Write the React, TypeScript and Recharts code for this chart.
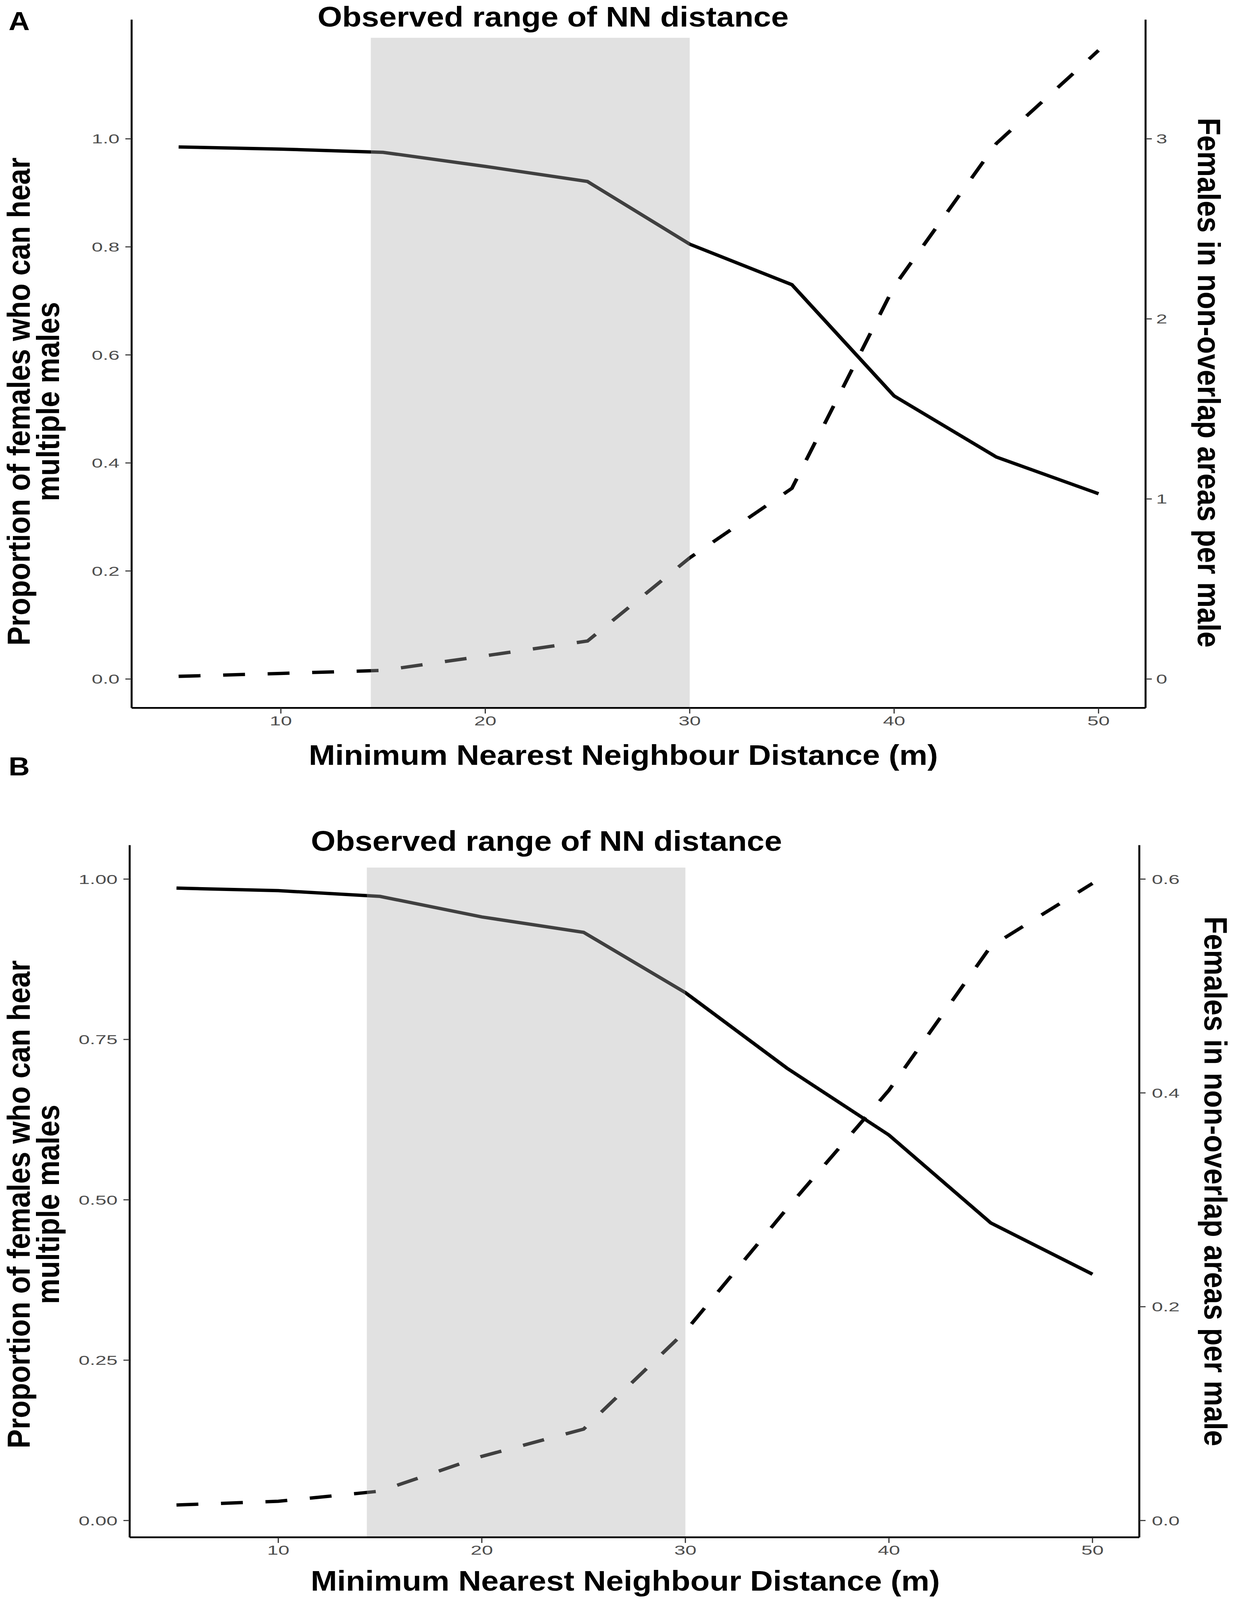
import React from "react";
import { LineChart, Line, XAxis, YAxis, ReferenceArea } from "recharts";

// ---------- data ----------
const distance = [5, 10, 15, 20, 25, 30, 35, 40, 45, 50];

// Panel A
const propHearA = [0.985, 0.981, 0.975, 0.949, 0.921, 0.805, 0.73, 0.524, 0.411, 0.343];
const nonOverlapA = [0.015, 0.031, 0.048, 0.129, 0.211, 0.673, 1.059, 2.18, 2.974, 3.491];

// Panel B
const propHearB = [0.986, 0.982, 0.973, 0.941, 0.917, 0.823, 0.705, 0.601, 0.464, 0.384];
const nonOverlapB = [0.0145, 0.018, 0.0275, 0.06, 0.0855, 0.177, 0.292, 0.4025, 0.537, 0.596];

// observed NN range (x from, x to, top on left axis)
const observedRangeA = [14.4, 30, 1.187];
const observedRangeB = [14.35, 30, 1.018];

const xTicks = [10, 20, 30, 40, 50];
const leftTicksA = [0, 0.2, 0.4, 0.6, 0.8, 1.0];
const rightTicksA = [0, 1, 2, 3];
const leftTicksB = [0, 0.25, 0.5, 0.75, 1.0];
const rightTicksB = [0, 0.2, 0.4, 0.6];

const titleText = "Observed range of NN distance";
const xTitle = "Minimum Nearest Neighbour Distance (m)";
const leftTitle1 = "Proportion of females who can hear";
const leftTitle2 = "multiple males";
const rightTitle = "Females in non-overlap areas per male";

// ---------- styling ----------
const W = 3162;
const FULL_H = 4570;
const H = 2285;
const FONT = "'Liberation Sans', Arial, Helvetica, sans-serif";
const TICK_COLOR = "#4d4d4d";
const TICK_FS = 38;
const TICK_SX = 1.35;

const makeTick = (fmt: (v: number) => string, dy: string) => (props: any) => {
  const { x, y, payload, textAnchor } = props;
  return (
    <text
      transform={`translate(${x},${y}) scale(${TICK_SX},1)`}
      textAnchor={textAnchor}
      dy={dy}
      fill={TICK_COLOR}
      fontSize={TICK_FS}
      fontFamily={FONT}
    >
      {fmt(payload.value)}
    </text>
  );
};

type PanelCfg = {
  prop: number[];
  non: number[];
  range: number[];
  leftDomain: [number, number];
  rightScale: number;
  leftTicks: number[];
  rightTicks: number[];
  leftFmt: (v: number) => string;
  rightFmt: (v: number) => string;
  rightTickMargin: number;
  margin: { top: number; right: number; bottom: number; left: number };
};

function Panel({ cfg }: { cfg: PanelCfg }) {
  const data = distance.map((d, i) => ({ d, p: cfg.prop[i], n: cfg.non[i] }));
  const rightDomain: [number, number] = [
    cfg.leftDomain[0] * cfg.rightScale,
    cfg.leftDomain[1] * cfg.rightScale,
  ];
  const axisLine = { stroke: "#000", strokeWidth: 5 };
  const tickLine = { stroke: "#333", strokeWidth: 3 };
  return (
    <LineChart width={W} height={H} data={data} margin={cfg.margin}>
      <XAxis
        type="number"
        dataKey="d"
        domain={[2.7, 52.3]}
        ticks={xTicks}
        allowDataOverflow
        interval={0}
        height={80}
        tickSize={16}
        tickMargin={7}
        axisLine={axisLine}
        tickLine={tickLine}
        tick={makeTick((v) => String(v), "0.71em")}
      />
      <YAxis
        yAxisId="left"
        orientation="left"
        type="number"
        domain={cfg.leftDomain}
        ticks={cfg.leftTicks}
        allowDataOverflow
        interval={0}
        width={100}
        tickSize={16}
        tickMargin={15}
        axisLine={axisLine}
        tickLine={tickLine}
        tick={makeTick(cfg.leftFmt, "0.355em")}
      />
      <YAxis
        yAxisId="right"
        orientation="right"
        type="number"
        domain={rightDomain}
        ticks={cfg.rightTicks}
        allowDataOverflow
        interval={0}
        width={100}
        tickSize={16}
        tickMargin={cfg.rightTickMargin}
        axisLine={axisLine}
        tickLine={tickLine}
        tick={makeTick(cfg.rightFmt, "0.355em")}
      />
      <Line
        yAxisId="left"
        dataKey="p"
        type="linear"
        stroke="#000"
        strokeWidth={9.5}
        dot={false}
        activeDot={false}
        isAnimationActive={false}
      />
      <Line
        yAxisId="right"
        dataKey="n"
        type="linear"
        stroke="#000"
        strokeWidth={9.5}
        strokeDasharray="56 58"
        strokeLinecap="butt"
        dot={false}
        activeDot={false}
        isAnimationActive={false}
      />
      <ReferenceArea
        yAxisId="left"
        x1={cfg.range[0]}
        x2={cfg.range[1]}
        y1={cfg.leftDomain[0]}
        y2={cfg.range[2]}
        fill="#adadad"
        fillOpacity={0.37}
        stroke="none"
        ifOverflow="visible"
        zIndex={450}
      />
    </LineChart>
  );
}

const cfgA: PanelCfg = {
  prop: propHearA,
  non: nonOverlapA,
  range: observedRangeA,
  leftDomain: [-0.0535, 1.2207],
  rightScale: 3,
  leftTicks: leftTicksA,
  rightTicks: rightTicksA,
  leftFmt: (v) => v.toFixed(1),
  rightFmt: (v) => String(v),
  rightTickMargin: 11,
  margin: { top: 56, right: 129, bottom: 183, left: 237 },
};

const cfgB: PanelCfg = {
  prop: propHearB,
  non: nonOverlapB,
  range: observedRangeB,
  leftDomain: [-0.0262, 1.0529],
  rightScale: 0.6,
  leftTicks: leftTicksB,
  rightTicks: rightTicksB,
  leftFmt: (v) => v.toFixed(2),
  rightFmt: (v) => v.toFixed(1),
  rightTickMargin: 16,
  margin: { top: 129, right: 145, bottom: 99, left: 232 },
};

function PanelTexts({ titleX, titleY, xTitleX, xTitleY, leftY, rightX, rightY, letter, letterY }: any) {
  const bold = { fontFamily: FONT, fontWeight: 700, fill: "#000" } as any;
  return (
    <g>
      <text x={22} y={letterY} fontSize={75} {...bold}>
        {letter}
      </text>
      <text x={titleX} y={titleY} fontSize={81} {...bold}>
        {titleText}
      </text>
      <text x={xTitleX} y={xTitleY} fontSize={81} textAnchor="middle" {...bold}>
        {xTitle}
      </text>
      <text transform={`translate(76,${leftY}) rotate(-90)`} fontSize={82} textAnchor="middle" {...bold}>
        {leftTitle1}
      </text>
      <text transform={`translate(151,${leftY}) rotate(-90)`} fontSize={82} textAnchor="middle" {...bold}>
        {leftTitle2}
      </text>
      <text transform={`translate(${rightX},${rightY}) rotate(90)`} fontSize={82} textAnchor="middle" {...bold}>
        {rightTitle}
      </text>
    </g>
  );
}

export default function App() {
  // The visible viewport can be shorter than the requested page height;
  // squeeze the layout vertically so the whole figure stays in view.
  const viewH = typeof window !== "undefined" ? window.innerHeight : FULL_H;
  const k = Math.min(1, viewH / FULL_H);
  return (
    <div
      style={{
        position: "absolute",
        left: 0,
        top: 0,
        width: W,
        height: FULL_H * k,
        overflow: "hidden",
        background: "#fff",
      }}
    >
      <div
        style={{
          position: "absolute",
          left: 0,
          top: 0,
          width: W,
          height: FULL_H,
          background: "#fff",
          transform: `scale(1, ${k})`,
          transformOrigin: "0 0",
        }}
      >
        <div style={{ position: "absolute", left: 0, top: 0 }}>
          <Panel cfg={cfgA} />
        </div>
        <div style={{ position: "absolute", left: 0, top: H }}>
          <Panel cfg={cfgB} />
        </div>
        <svg
          width={W}
          height={FULL_H}
          style={{ position: "absolute", left: 0, top: 0, pointerEvents: "none" }}
        >
          <PanelTexts
            letter="A"
            letterY={86}
            titleX={813}
            titleY={76}
            xTitleX={1596}
            xTitleY={2185}
            leftY={1147}
            rightX={3067}
            rightY={1093}
          />
          <PanelTexts
            letter="B"
            letterY={2215}
            titleX={796}
            titleY={2430}
            xTitleX={1601}
            xTitleY={4543}
            leftY={3440}
            rightX={3084}
            rightY={3374}
          />
        </svg>
      </div>
    </div>
  );
}
